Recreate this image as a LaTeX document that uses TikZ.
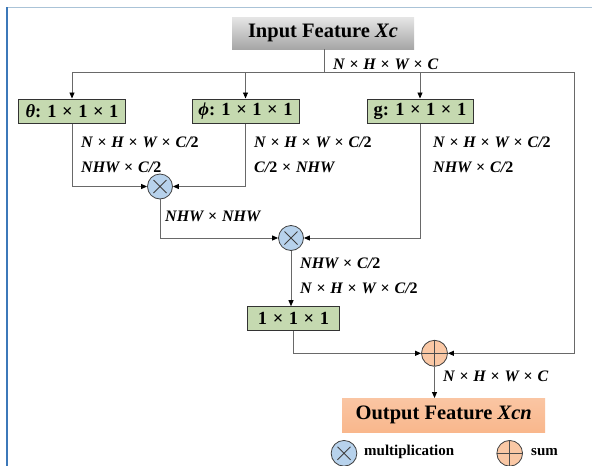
\documentclass[tikz,border=0pt]{standalone}
\usepackage{fontspec}
\setmainfont{Liberation Serif}
\usetikzlibrary{arrows.meta}
\definecolor{boxgreen}{RGB}{197,217,176}
\definecolor{multblue}{RGB}{183,210,236}
\definecolor{sumorange}{RGB}{250,200,165}
\definecolor{outorange}{RGB}{249,183,140}
\definecolor{linegray}{RGB}{105,105,105}
\definecolor{borderblue}{RGB}{60,120,185}
\definecolor{bordertop}{RGB}{170,195,215}
\newcommand\tm{\hspace{0.3em}{\upshape×}\hspace{0.3em}}
\newcommand\two{{\upshape 2}}
\begin{document}
\begin{tikzpicture}[x=1pt,y=-1pt,
  conv/.style={draw=black!80, fill=boxgreen, line width=1pt, minimum height=24pt, inner sep=0pt, font=\fontsize{18.5}{18.5}\selectfont\bfseries},
  opnode/.style={circle, draw=black!75, line width=0.8pt, minimum size=25pt, inner sep=0pt},
  mult/.style={opnode, fill=multblue, path picture={
    \draw[line width=0.9pt] ([shift={(-6.5,-6.5)}]path picture bounding box.center) -- ([shift={(6.5,6.5)}]path picture bounding box.center)
      ([shift={(-6.5,6.5)}]path picture bounding box.center) -- ([shift={(6.5,-6.5)}]path picture bounding box.center);}},
  sumop/.style={opnode, fill=sumorange, path picture={
    \draw[line width=0.7pt, black!70] (path picture bounding box.north) -- (path picture bounding box.south)
      (path picture bounding box.west) -- (path picture bounding box.east);}},
  conn/.style={draw=linegray, line width=0.9pt},
  arr/.style={conn, -{Triangle[length=6pt,width=5pt,color=black]}},
  dim/.style={anchor=west, inner sep=0pt, font=\fontsize{16}{16}\selectfont\bfseries\itshape},
  legend/.style={anchor=west, inner sep=0pt, font=\fontsize{15}{15}\selectfont\bfseries}
]
\useasboundingbox (0,0) rectangle (592,466);
% frame
\draw[bordertop, line width=1.5pt] (6.5,7.3) -- (592,7.3);
\draw[borderblue, line width=2pt] (6.5,466) -- (6.5,6.5);

% main nodes
\node[top color=black!10, bottom color=black!35, minimum width=182pt, minimum height=32pt, inner sep=0pt,
      font=\fontsize{20.5}{20.5}\selectfont\bfseries] (in) at (323,33) {Input Feature \textit{Xc}};
\node[conv, minimum width=107pt] (theta) at (72,111) {\textit{θ}: 1\tm 1\tm 1};
\node[conv, minimum width=107pt] (phi) at (245.5,111) {\textit{ϕ}: 1\tm 1\tm 1};
\node[conv, minimum width=106pt] (g) at (420,111) {g: 1\tm 1\tm 1};
\node[mult] (m1) at (160,186.5) {};
\node[mult] (m2) at (291,238) {};
\node[conv, minimum width=92pt] (o) at (293.5,318.7) {1\tm 1\tm 1};
\node[sumop, minimum size=26pt] (sum) at (434.5,353.3) {};
\node[top color=outorange!80, bottom color=outorange, minimum width=203pt, minimum height=34pt, inner sep=0pt,
      font=\fontsize{20.5}{20.5}\selectfont\bfseries] (out) at (443.7,415.2) {Output Feature \textit{Xcn}};

\coordinate (split) at (324,72);
\coordinate (rc) at (574,72);

% connectors
\draw[conn] (in.south -| split) -- (split);
\draw[arr] (split) -| (theta.north);
\draw[arr] (split) -| (phi.north);
\draw[arr] (split) -| (g.north);
\draw[arr] (split) -- (rc) |- (sum.east);
\draw[arr] (theta.south) |- (m1.west);
\draw[arr] (phi.south) |- (m1.east);
\draw[arr] (m1.south) |- (m2.west);
\draw[arr] (g.south) |- (m2.east);
\draw[arr] (m2.south) -- (m2.south |- o.north);
\draw[arr] (o.south) |- (sum.west);
\draw[arr] (sum.south) -- (sum.south |- out.north);

% dimension labels
\node[dim] (l0) at (333,64) {N\tm H\tm W\tm C};
\node[dim] (l1) at (81,142) {N\tm H\tm W\tm C/\two};
\node[dim] (l2) at (81,167) {NHW\tm C/\two};
\node[dim] (l3) at (254,142) {N\tm H\tm W\tm C/\two};
\node[dim] (l4) at (254,167) {C/\two\tm NHW};
\node[dim] (l5) at (433,142) {N\tm H\tm W\tm C/\two};
\node[dim] (l6) at (433,167) {NHW\tm C/\two};
\node[dim] (l7) at (165,216.7) {NHW\tm NHW};
\node[dim] (l8) at (300,263.3) {NHW\tm C/\two};
\node[dim] (l9) at (300,288.3) {N\tm H\tm W\tm C/\two};
\node[dim] (l10) at (443,376) {N\tm H\tm W\tm C};

% legend
\node[mult, minimum size=25.7pt] (lm) at (344,453.3) {};
\node[legend] (lmt) at (364,452) {multiplication};
\node[sumop, minimum size=25.7pt] (ls) at (509.7,453.3) {};
\node[legend] (lst) at (531,452) {sum};
\end{tikzpicture}
\end{document}
